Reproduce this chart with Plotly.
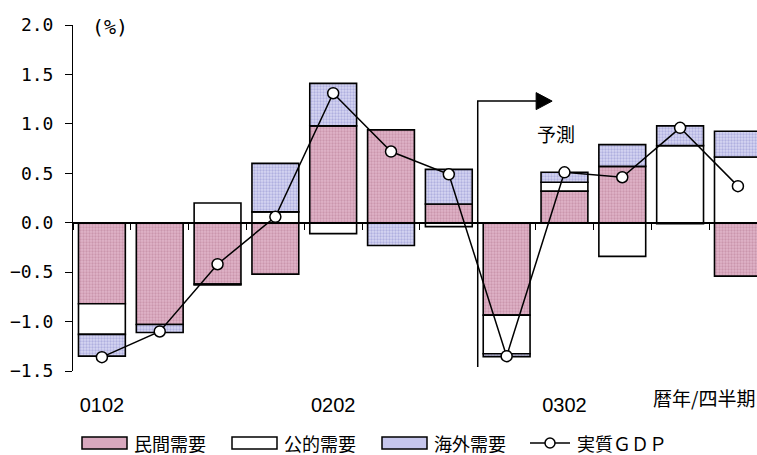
import plotly.graph_objects as go

# Quarterly contributions to real GDP growth (q/q, %)
quarters = ["0102", "0103", "0104", "0201", "0202", "0203",
            "0204", "0301", "0302", "0303", "0304", "0401"]
private_demand = [-0.82, -1.03, -0.62, -0.52, 0.98, 0.94, 0.19, -0.935, 0.32, 0.57, -0.01, -0.54]
public_demand = [-0.31, 0.00, 0.20, 0.11, -0.11, 0.00, -0.04, -0.39, 0.09, -0.34, 0.78, 0.665]
external_demand = [-0.22, -0.08, -0.01, 0.49, 0.43, -0.23, 0.35, -0.03, 0.10, 0.22, 0.20, 0.26]
real_gdp = [-1.36, -1.10, -0.42, 0.06, 1.31, 0.72, 0.49, -1.35, 0.51, 0.46, 0.96, 0.37]
shown_ticks = ["0102", "0202", "0302"]

series_names = ["民間需要", "公的需要", "海外需要", "実質ＧＤＰ"]

W, H = 757, 455
L, T, B = 73, 25, 84
PW, PH = W - L, H - T - B
PLOT_BOTTOM = H - B
Y_RANGE = [-1.5, 2.0]
X_RANGE = [-0.5, 11.33]

JP = "Noto Sans CJK JP"
MONO = "DejaVu Sans Mono"
PINK_BG, PINK_FG, PINK_FLAT = "#e0b4c8", "#b47892", "#d8a8be"
BLUE_BG, BLUE_FG, BLUE_FLAT = "#d6d6f2", "#8a8acc", "#c6c6ec"


def px(xp):
    return (xp - L) / PW


def py(yp):
    return (PLOT_BOTTOM - yp) / PH


fig = go.Figure()

bar_style = dict(marker_line=dict(color="black", width=1.6), showlegend=False)
fig.add_bar(x=quarters, y=private_demand, name=series_names[0],
            marker=dict(color=PINK_BG,
                        pattern=dict(shape=".", bgcolor=PINK_BG, fgcolor=PINK_FG,
                                     size=3, solidity=0.45)),
            **bar_style)
fig.add_bar(x=quarters, y=public_demand, name=series_names[1],
            marker=dict(color="white"), **bar_style)
fig.add_bar(x=quarters, y=external_demand, name=series_names[2],
            marker=dict(color=BLUE_BG,
                        pattern=dict(shape=".", bgcolor=BLUE_BG, fgcolor=BLUE_FG,
                                     size=3, solidity=0.45)),
            **bar_style)
fig.add_scatter(x=quarters, y=real_gdp, name=series_names[3], xaxis="x2",
                mode="lines+markers", showlegend=False,
                line=dict(color="black", width=1.5),
                marker=dict(symbol="circle", size=11, color="white",
                            line=dict(color="black", width=1.5)))

fig.update_layout(
    width=W, height=H,
    margin=dict(l=L, r=0, t=T, b=B),
    paper_bgcolor="white", plot_bgcolor="white",
    barmode="relative", bargap=0.19,
    font=dict(family=JP, color="black", size=19),
    xaxis=dict(type="category", categoryorder="array", categoryarray=quarters,
               range=X_RANGE, tickvals=shown_ticks, ticktext=shown_ticks,
               ticks="", showline=False, showgrid=False, zeroline=False,
               ticklabelstandoff=20,
               tickfont=dict(family="Liberation Sans", size=20)),
    xaxis2=dict(type="category", categoryorder="array", categoryarray=quarters,
                overlaying="x", anchor="free",
                position=(0 - Y_RANGE[0]) / (Y_RANGE[1] - Y_RANGE[0]),
                range=X_RANGE, tickson="boundaries", ticks="outside",
                ticklen=6, tickwidth=1, tickcolor="black",
                showticklabels=False, showline=True, linecolor="black",
                linewidth=2, showgrid=False, zeroline=False),
    yaxis=dict(range=Y_RANGE, dtick=0.5, tickformat=".1f",
               ticks="outside", ticklen=7, tickcolor="black",
               showline=True, linecolor="black", linewidth=1,
               showgrid=False, zeroline=False, ticklabelstandoff=8,
               tickfont=dict(family=MONO, size=18)),
)

# Forecast marker: bracket line from the 0204/0301 boundary with an arrowhead
fc_x, fc_end, fc_top, fc_bottom = 6.5, 7.51, 1.23, -1.46
fig.add_shape(type="path",
              path=f"M {fc_x},{fc_bottom} L {fc_x},{fc_top} L {fc_end},{fc_top}",
              xref="x", yref="y", line=dict(color="black", width=1.5))
fig.add_shape(type="path", xref="x", yref="y",
              xsizemode="pixel", ysizemode="pixel",
              xanchor=fc_end, yanchor=fc_top,
              path="M 0,8.5 L 16,0 L 0,-8.5 Z",
              fillcolor="black", line=dict(color="black", width=1))
fig.add_annotation(x=7.86, y=0.905, xref="x", yref="y", text="予測",
                   showarrow=False, font=dict(size=19))

fig.add_annotation(x=px(90), y=py(27), xref="paper", yref="paper", text="(%)",
                   xanchor="left", yanchor="middle", showarrow=False,
                   font=dict(family=MONO, size=20))
fig.add_annotation(x=1.0, y=py(397), xref="paper", yref="paper", text="暦年/四半期",
                   xanchor="right", yanchor="middle", showarrow=False,
                   font=dict(size=19))

# Legend row drawn below the plot
leg_y = 443
swatches = [(82, 127, PINK_FLAT), (232, 277, "white"), (382, 427, BLUE_FLAT)]
for (x0, x1, col), name in zip(swatches, series_names[:3]):
    fig.add_shape(type="rect", xref="paper", yref="paper",
                  x0=px(x0), x1=px(x1), y0=py(leg_y + 6), y1=py(leg_y - 6),
                  fillcolor=col, line=dict(color="black", width=1.5))
    fig.add_annotation(x=px(x1 + 5), y=py(leg_y), xref="paper", yref="paper",
                       text=name, xanchor="left", yanchor="middle",
                       showarrow=False, font=dict(size=18))
fig.add_shape(type="line", xref="paper", yref="paper",
              x0=px(530), x1=px(570), y0=py(leg_y), y1=py(leg_y),
              line=dict(color="black", width=1.5))
fig.add_shape(type="circle", xref="paper", yref="paper",
              x0=px(545), x1=px(555), y0=py(leg_y + 5), y1=py(leg_y - 5),
              fillcolor="white", line=dict(color="black", width=1.5))
fig.add_annotation(x=px(575), y=py(leg_y), xref="paper", yref="paper",
                   text=series_names[3], xanchor="left", yanchor="middle",
                   showarrow=False, font=dict(size=18))

fig.write_html("out.html")
